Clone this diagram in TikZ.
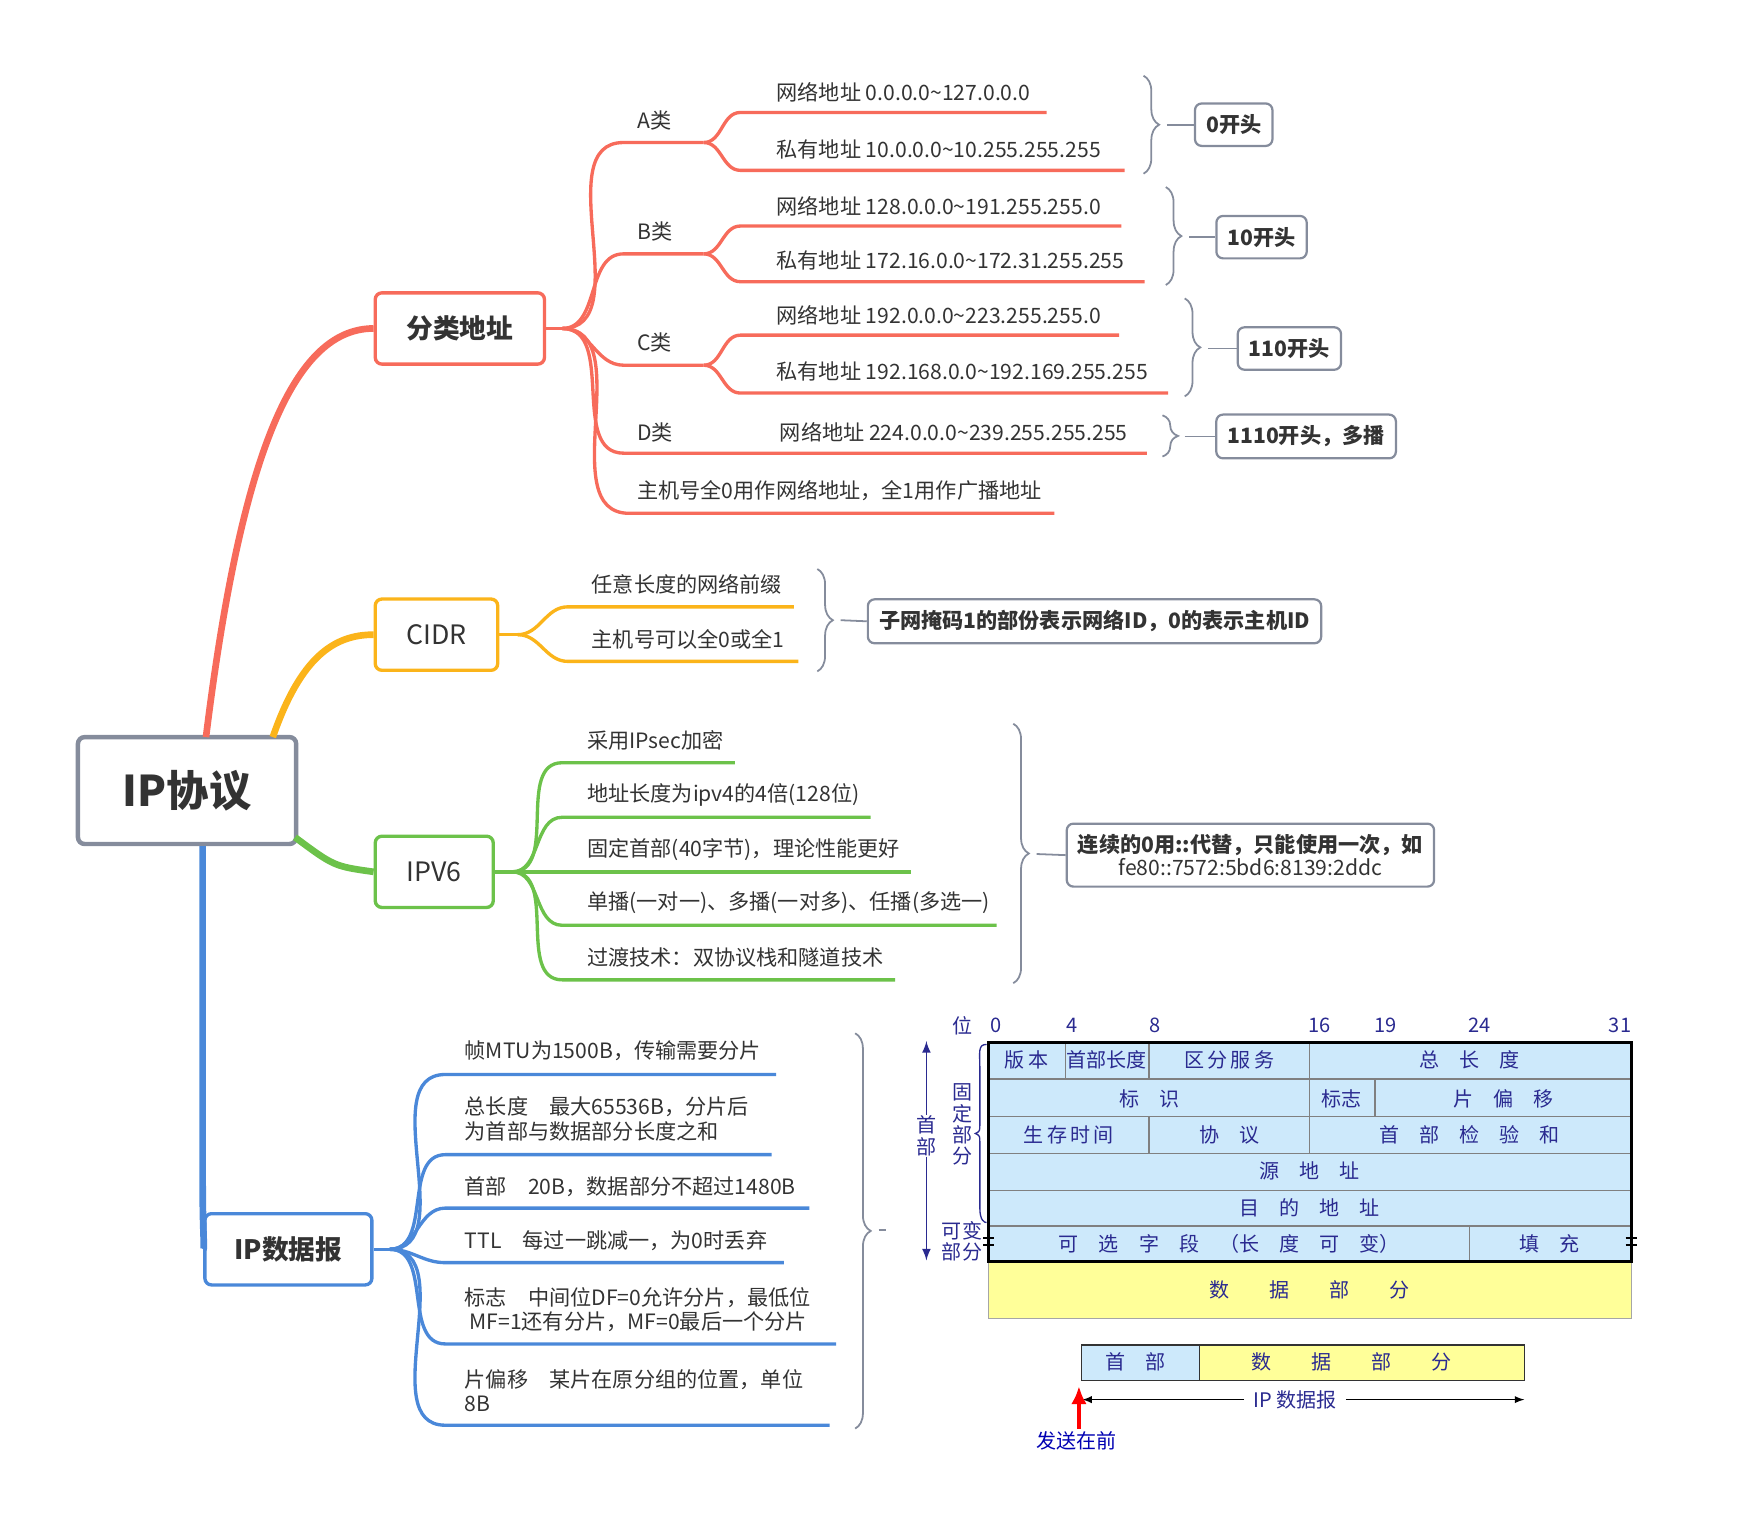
\documentclass[tikz,border=0pt]{standalone}
\usepackage{fontspec}
\setmainfont{Noto Sans CJK SC}
\usetikzlibrary{decorations.pathreplacing,calc,arrows.meta}
\definecolor{cr}{HTML}{F76B5B}\definecolor{co}{HTML}{FBB41A}\definecolor{cg}{HTML}{6CC24A}
\definecolor{cb}{HTML}{4A88D9}\definecolor{cgr}{HTML}{858C9C}\definecolor{tx}{HTML}{333333}
\definecolor{lb}{HTML}{CDE9FB}\definecolor{ly}{HTML}{FFFF99}\definecolor{db}{HTML}{2A2A90}
\begin{document}
\begin{tikzpicture}[x=0.5pt,y=-0.5pt,
 every node/.style={font=\fontsize{9.5}{11}\selectfont,text=tx,inner sep=0pt},
 lf/.style={anchor=west},
 main/.style={draw,line width=1.5pt,rounded corners=3pt,font=\fontsize{12}{14}\selectfont\bfseries,minimum height=32pt},
 note/.style={draw=cgr,line width=1pt,rounded corners=3pt,font=\fontsize{9.5}{11}\selectfont\bfseries,inner sep=5pt,align=center},
 br/.style={decorate,decoration={brace,amplitude=7pt},draw=cgr,line width=0.8pt},
 rl/.style={cr,line width=1.5pt},ol/.style={co,line width=1.5pt},gl/.style={cg,line width=1.5pt},bl/.style={cb,line width=1.5pt},
 cell/.style={font=\fontsize{9}{10}\selectfont,text=db}]
\useasboundingbox (0,0) rectangle (1560,1374);
% root
\node[main,draw=cgr,line width=2pt,minimum width=98pt,minimum height=48pt,font=\fontsize{19}{22}\selectfont\bfseries] (root) at (168,710) {IP协议};
\node[main,draw=cr,minimum width=76pt] (fl) at (413,295) {分类地址};
\node[main,draw=co,minimum width=55pt,font=\fontsize{12}{14}\selectfont] (cidr) at (392,570) {CIDR};
\node[main,draw=cg,minimum width=53pt,font=\fontsize{12}{14}\selectfont] (v6) at (390,783) {IPV6};
\node[main,draw=cb,minimum width=75pt] (dg) at (259,1122) {IP数据报};
\draw[cr,line width=3pt] (185,662) .. controls (215,420) and (260,295) .. (fl.west);
\draw[co,line width=3pt] (245,662) .. controls (270,590) and (300,570) .. (cidr.west);
\draw[cg,line width=3pt] (265,752) .. controls (300,778) .. (v6.west);
\draw[cb,line width=3pt] (182,760) -- (182,1060) .. controls (182,1110) and (184,1122) .. (dg.west);
% 分类地址
\coordinate (fs) at (505,295);
\draw[rl] (fl.east) -- (fs);
\foreach \n/\y in {A/128,B/228,C/328}{
 \coordinate (\n s) at (632,\y);
 \draw[rl] (fs) to[out=0,in=180] (560,\y) -- (\n s);
 \node[lf] (\n t) at (572,\y-20) {\n 类};}
\foreach \n/\ya/\xa/\yb/\xb/\ta/\tb in {
 A/101/940/153/1010/网络地址 0.0.0.0\textasciitilde 127.0.0.0/私有地址 10.0.0.0\textasciitilde 10.255.255.255,
 B/203/1007/253/1028/网络地址 128.0.0.0\textasciitilde 191.255.255.0/私有地址 172.16.0.0\textasciitilde 172.31.255.255,
 C/301/1005/353/1049/网络地址 192.0.0.0\textasciitilde 223.255.255.0/私有地址 192.168.0.0\textasciitilde 192.169.255.255}{
 \coordinate (\n a) at (\xa,\ya); \coordinate (\n b) at (\xb,\yb);
 \draw[rl] (\n s) to[out=0,in=180] (665,\ya) -- (\n a);
 \draw[rl] (\n s) to[out=0,in=180] (665,\yb) -- (\n b);
 \node[lf] at (697,\ya-18) {\ta};
 \node[lf] at (697,\yb-19) {\tb};}
\coordinate (De) at (1030,407);
\draw[rl] (fs) to[out=0,in=180] (560,407) -- (De);
\node[lf] at (572,388) {D类};
\node[lf] at (700,388) {网络地址 224.0.0.0\textasciitilde 239.255.255.255};
\coordinate (He) at (947,461);
\draw[rl] (fs) to[out=0,in=180] (565,461) -- (He);
\node[lf] at (572,441) {主机号全0用作网络地址，全1用作广播地址};
% braces and notes
\node[note] (n0) at (1108,112) {0开头};
\node[note] (n1) at (1133,213) {10开头};
\node[note] (n2) at (1158,313) {110开头};
\node[note] (n3) at (1173,392) {1110开头，多播};
\draw[br] (1027,68) -- (1027,156); \draw[cgr,line width=0.8pt] (1048,112) -- (n0.west);
\draw[br] (1047,168) -- (1047,256); \draw[cgr,line width=0.8pt] (1068,213) -- (n1.west);
\draw[br] (1064,268) -- (1064,356); \draw[cgr,line width=0.8pt] (1085,313) -- (n2.west);
\draw[br] (1044,373) -- (1044,410); \draw[cgr,line width=0.8pt] (1064,392) -- (n3.west);
% CIDR
\coordinate (cs) at (465,570);
\draw[ol] (cidr.east) -- (cs);
\coordinate (c1) at (713,545); \coordinate (c2) at (717,594);
\draw[ol] (cs) to[out=0,in=180] (510,545) -- (c1);
\draw[ol] (cs) to[out=0,in=180] (510,594) -- (c2);
\node[lf] at (531,525) {任意长度的网络前缀};
\node[lf] at (531,574) {主机号可以全0或全1};
\node[note] (nc) at (983,558) {子网掩码1的部份表示网络ID，0的表示主机ID};
\draw[br] (734,511) -- (734,603); \draw[cgr,line width=0.8pt] (755,557) -- (nc.west);
% IPV6
\coordinate (vs) at (460,783);
\draw[gl] (v6.east) -- (vs);
\foreach \y/\xe/\t in {685/660/采用IPsec加密,734/782/地址长度为ipv4的4倍(128位),783/818/固定首部(40字节)，理论性能更好,831/895/单播(一对一)、多播(一对多)、任播(多选一),880/804/过渡技术：双协议栈和隧道技术}{
 \coordinate (ve\y) at (\xe,\y);
 \draw[gl] (vs) to[out=0,in=180] (505,\y) -- (ve\y);
 \node[lf] at (527,\y-20) {\t};}
\node[note] (nv) at (1123,768) {连续的0用::代替，只能使用一次，如\\[-1pt]\mdseries fe80::7572:5bd6:8139:2ddc};
\draw[br] (910,650) -- (910,883); \draw[cgr,line width=0.8pt] (931,767) -- (nv.west);
% IP数据报
\coordinate (ds) at (350,1122);
\draw[bl] (dg.east) -- (ds);
\foreach \y/\xe in {965/697,1037/693,1085/727,1134/704,1207/751,1280/745}{
 \coordinate (de\y) at (\xe,\y);
 \draw[bl] (ds) to[out=0,in=180] (400,\y) -- (de\y);}
\node[lf] at (417,944) {帧MTU为1500B，传输需要分片};
\node[lf,align=left] at (417,1005) {总长度\quad 最大65536B，分片后\\为首部与数据部分长度之和};
\node[lf] at (417,1066) {首部\quad 20B，数据部分不超过1480B};
\node[lf] at (417,1114) {TTL\quad 每过一跳减一，为0时丢弃};
\node[lf,align=left] at (417,1176) {标志\quad 中间位DF=0允许分片，最低位\\\ MF=1还有分片，MF=0最后一个分片};
\node[lf,align=left] at (417,1249) {片偏移\quad 某片在原分组的位置，单位\\8B};
\draw[br] (768,928) -- (768,1283); \draw[cgr,line width=0.8pt] (789,1105) -- (796,1105);
% table
\fill[lb] (888,936) rectangle (1465,1133);
\fill[ly] (888,1133) rectangle (1465,1184);
\draw[gray!70,line width=0.5pt] (888,1133) rectangle (1465,1184);
\draw[gray,line width=0.6pt] (888,969)--(1465,969) (888,1003)--(1465,1003) (888,1036)--(1465,1036) (888,1069)--(1465,1069) (888,1101)--(1465,1101)
 (957,936)--(957,969) (1032,936)--(1032,969) (1176,936)--(1176,1036) (1235,969)--(1235,1003) (1032,1003)--(1032,1036) (1320,1101)--(1320,1133);
\draw[black,line width=1.2pt] (888,936) rectangle (1465,1133);
\draw[black,line width=1pt] (883,1112)--(893,1112) (883,1118)--(893,1118) (1460,1112)--(1470,1112) (1460,1118)--(1470,1118);
\node[cell] at (922,952) {版\,本};
\node[cell] at (994,952) {首部长度};
\node[cell] at (1104,952) {区\,分\,服\,务};
\node[cell] at (1320,952) {总\quad 长\quad 度};
\node[cell] at (1032,987) {标\quad 识};
\node[cell] at (1205,987) {标志};
\node[cell] at (1350,987) {片\quad 偏\quad 移};
\node[cell] at (960,1019) {生\,存\,时\,间};
\node[cell] at (1104,1019) {协\quad 议};
\node[cell] at (1320,1019) {首\quad 部\quad 检\quad 验\quad 和};
\node[cell] at (1176,1052) {源\quad 地\quad 址};
\node[cell] at (1176,1085) {目\quad 的\quad 地\quad 址};
\node[cell] at (1104,1117) {可\quad 选\quad 字\quad 段\quad （长\quad 度\quad 可\quad 变）};
\node[cell] at (1392,1117) {填\quad 充};
\node[cell] at (1176,1158) {数\qquad 据\qquad 部\qquad 分};
\foreach \x/\t in {864/位,895/0,963/4,1037/8,1185/16,1244/19,1329/24,1455/31}{\node[cell] at (\x,921) {\t};}
\node[cell,align=center] (sb) at (832,1020) {首\\部};
\node[cell,align=center,font=\fontsize{9}{9.5}\selectfont] at (864,1010) {固\\定\\部\\分};
\node[cell,align=center,font=\fontsize{9}{9.5}\selectfont] at (864,1115) {可变\\部分};
\draw[db,line width=0.8pt,-latex] (sb.north) -- (832,935);
\draw[db,line width=0.8pt,-latex] (sb.south) -- (832,1132);
\draw[db,line width=0.6pt] (886,938) .. controls (878,938) and (880,945) .. (880,960) -- (880,1010) .. controls (880,1016) .. (876,1018) .. controls (880,1020) .. (880,1026) -- (880,1085) .. controls (880,1096) and (884,1098) .. (886,1098);
% bottom datagram
\fill[lb] (971,1208) rectangle (1077,1240);
\fill[ly] (1077,1208) rectangle (1369,1240);
\draw[black!80,line width=0.6pt] (971,1208) rectangle (1369,1240) (1077,1208)--(1077,1240);
\node[cell] at (1020,1223) {首\quad 部};
\node[cell] at (1214,1223) {数\qquad 据\qquad 部\qquad 分};
\node[cell,fill=white,inner xsep=4pt] (ipd) at (1163,1257) {IP 数据报};
\draw[-latex,line width=0.5pt] (ipd.west) -- (972,1257);
\draw[-latex,line width=0.5pt] (ipd.east) -- (1369,1257);
\node[cell,text=blue!70!black] (fs2) at (967,1294) {发送在前};
\draw[red,line width=2pt,-{Latex[length=8pt,width=7pt]}] (969,1283) -- (969,1245);
\end{tikzpicture}
\end{document}
